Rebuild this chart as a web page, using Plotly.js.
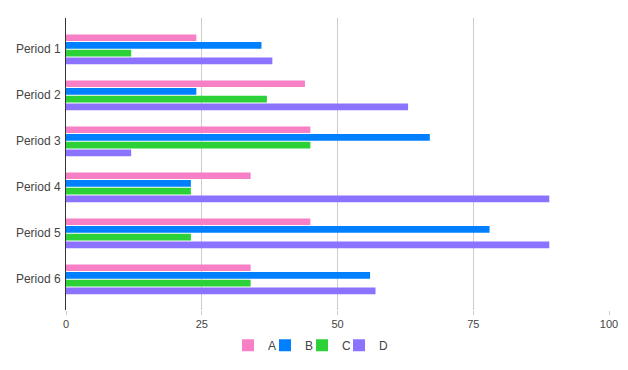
<!DOCTYPE html>
<html><head><meta charset="utf-8">
<script src="https://cdn.plot.ly/plotly-3.0.1.min.js"></script>
<style>html,body{margin:0;padding:0;background:#fff}#c{width:628px;height:370px}</style>
</head><body><div id="c"></div>
<script>
const categories = ["Period 1","Period 2","Period 3","Period 4","Period 5","Period 6"];
const seriesA = [24, 44, 45, 34, 45, 34];
const seriesB = [36, 24, 67, 23, 78, 56];
const seriesC = [12, 37, 45, 23, 23, 34];
const seriesD = [38, 63, 12, 89, 89, 57];
const names = ["A","B","C","D"];
const colors = ["#f77fc6","#0080ff","#2bd136","#8b72ff"];
const xTicks = [0, 25, 50, 75, 100];

const legendIds = ["legend","legend2","legend3","legend4"];
const data = [seriesA, seriesB, seriesC, seriesD].map((vals, i) => ({
  type: "bar", orientation: "h", name: names[i],
  x: vals, y: categories,
  marker: {color: colors[i]},
  legend: legendIds[i],
  hoverinfo: "x+name"
}));

const layout = {
  width: 628, height: 370,
  margin: {l: 66, r: 19, t: 18, b: 60, autoexpand: false},
  paper_bgcolor: "#fff", plot_bgcolor: "#fff",
  font: {family: "Liberation Sans, Arial, sans-serif", size: 12, color: "#444"},
  barmode: "group", bargap: 0.33, bargroupgap: 0.14,
  xaxis: {
    range: [0, 100], tickvals: xTicks, ticktext: xTicks.map(String),
    showgrid: true, gridcolor: "#cccccc", gridwidth: 1,
    zeroline: false, showline: false,
    ticks: "outside", ticklen: 4, tickcolor: "#cccccc",
    tickfont: {size: 11, color: "#444"}, fixedrange: true
  },
  yaxis: {
    type: "category", range: [5.668, -0.680],
    showgrid: false, zeroline: false,
    showline: true, linecolor: "#333333", linewidth: 1,
    ticks: "", ticklabelstandoff: 2,
    tickfont: {size: 12, color: "#444"}, fixedrange: true
  },
  showlegend: true
};
const swatchX = [242, 279, 316, 353];
legendIds.forEach((id, i) => {
  layout[id] = {
    orientation: "h", xref: "paper", yref: "paper",
    x: (swatchX[i] - 14 - 66) / 543, xanchor: "left",
    y: -0.071, yanchor: "top",
    font: {size: 12, color: "#444"}, itemwidth: 30,
    bgcolor: "rgba(0,0,0,0)"
  };
});
Plotly.newPlot("c", data, layout, {displayModeBar: false, staticPlot: true});
</script></body></html>
